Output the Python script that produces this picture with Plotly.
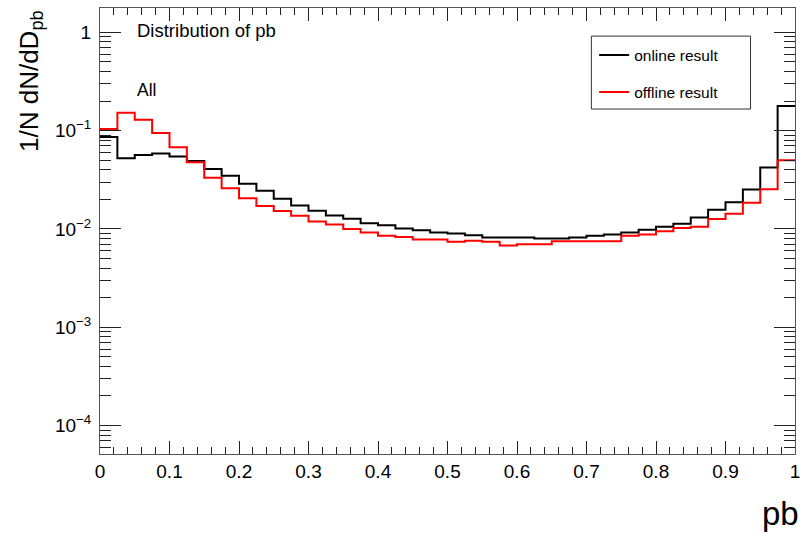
import numpy as np
import plotly.graph_objects as go

# 40 equal bins on pb in [0, 1]
n_bins = 40
pb_lo, pb_hi = 0.0, 1.0

online = [
    0.0863, 0.0523, 0.0566, 0.0584, 0.0545, 0.0492, 0.0408, 0.0347, 0.0288, 0.0244,
    0.0203, 0.0173, 0.0153, 0.0137, 0.0127, 0.0114, 0.0109, 0.0101, 0.0097, 0.0092,
    0.0090, 0.0086, 0.0082, 0.0082, 0.0082, 0.0080, 0.0080, 0.0082, 0.0085, 0.0088,
    0.0092, 0.0098, 0.0105, 0.0113, 0.0131, 0.0157, 0.0187, 0.0252, 0.0421, 0.178,
]
offline = [
    0.104, 0.152, 0.129, 0.0948, 0.0677, 0.0477, 0.0331, 0.0260, 0.0205, 0.0171,
    0.0152, 0.0136, 0.0119, 0.0111, 0.0100, 0.0092, 0.0085, 0.0083, 0.0078, 0.0078,
    0.0074, 0.0076, 0.0074, 0.0068, 0.0070, 0.0070, 0.0075, 0.0075, 0.0075, 0.0075,
    0.0085, 0.0088, 0.0095, 0.0102, 0.0105, 0.0126, 0.0143, 0.0185, 0.0254, 0.050,
]
series_names = ["online result", "offline result"]
series_colors = ["#000000", "#ff0000"]

x_tick_vals = [0, 0.1, 0.2, 0.3, 0.4, 0.5, 0.6, 0.7, 0.8, 0.9, 1]
x_tick_text = ["0", "0.1", "0.2", "0.3", "0.4", "0.5", "0.6", "0.7", "0.8", "0.9", "1"]
y_tick_vals = [1e-4, 1e-3, 1e-2, 1e-1, 1]
y_tick_text = ["10<sup>−4</sup>", "10<sup>−3</sup>", "10<sup>−2</sup>", "10<sup>−1</sup>", "1"]

FONT = "Liberation Sans, Arial, Helvetica, sans-serif"

edges = np.linspace(pb_lo, pb_hi, n_bins + 1)

fig = go.Figure()
for name, vals, col in zip(series_names, [online, offline], series_colors):
    fig.add_trace(go.Scatter(
        x=edges, y=list(vals) + [vals[-1]],
        mode="lines", line=dict(shape="hv", color=col, width=2),
        name=name, legendgroup=name,
    ))

# minor decade ticks drawn on an overlaid log axis
minor_vals = [m * 10.0 ** e for e in range(-5, 1) for m in range(2, 10)]
y_range = [-4.29, 0.248]

fig.update_layout(
    width=802, height=537,
    margin=dict(l=100, r=2, t=8, b=83),
    paper_bgcolor="white", plot_bgcolor="white",
    font=dict(family=FONT, color="black"),
    showlegend=True,
    legend=dict(
        x=0.711, y=0.932, xanchor="left", yanchor="top",
        bgcolor="rgba(0,0,0,0)", borderwidth=0,
        font=dict(size=15.5, family=FONT),
        tracegroupgap=14, itemwidth=30,
    ),
    xaxis=dict(
        range=[pb_lo, pb_hi], tickvals=x_tick_vals, ticktext=x_tick_text,
        showgrid=False, zeroline=False,
        showline=True, linecolor="#555", linewidth=1, mirror="ticks",
        ticks="inside", ticklen=13, tickcolor="#222",
        tickfont=dict(size=19, family=FONT),
        ticklabeloverflow="allow",
        minor=dict(dtick=0.02, tick0=0, ticks="inside", ticklen=7, tickcolor="#222", showgrid=False),
    ),
    yaxis=dict(
        type="log", range=y_range,
        tickvals=y_tick_vals, ticktext=y_tick_text,
        showgrid=False, zeroline=False,
        showline=True, linecolor="#555", linewidth=1, mirror="ticks",
        ticks="inside", ticklen=21, tickcolor="#222",
        tickfont=dict(size=19, family=FONT),
        ticklabelstandoff=4,
    ),
    yaxis2=dict(
        type="log", range=y_range, overlaying="y", side="left",
        tickvals=minor_vals, showticklabels=False,
        showgrid=False, zeroline=False, showline=False, mirror="ticks",
        ticks="inside", ticklen=11, tickcolor="#222",
    ),
)

# dummy trace so the overlaid minor-tick axis is drawn
fig.add_trace(go.Scatter(x=[None], y=[None], yaxis="y2", showlegend=False, hoverinfo="skip"))

# legend frame
fig.add_shape(type="rect", xref="paper", yref="paper",
              x0=0.707, x1=0.936, y0=0.7735, y1=0.937,
              line=dict(color="#333", width=1), fillcolor="rgba(0,0,0,0)")

fig.add_annotation(text="Distribution of pb", xref="paper", yref="paper",
                   x=0.05, y=0.9496, xanchor="left", yanchor="middle",
                   showarrow=False, font=dict(size=18.5, family=FONT))
fig.add_annotation(text="All", xref="paper", yref="paper",
                   x=0.05, y=0.817, xanchor="left", yanchor="middle",
                   showarrow=False, font=dict(size=17.5, family=FONT))
fig.add_annotation(text="1/N dN/dD<sub>pb</sub>", xref="paper", yref="paper",
                   x=-0.1007, y=1.0, xanchor="center", yanchor="top", textangle=-90,
                   showarrow=False, font=dict(size=26, family=FONT))
fig.add_annotation(text="pb", xref="paper", yref="paper",
                   x=1.008, y=-0.133, xanchor="right", yanchor="middle",
                   showarrow=False, font=dict(size=33, family=FONT))

fig.write_html("out.html")
